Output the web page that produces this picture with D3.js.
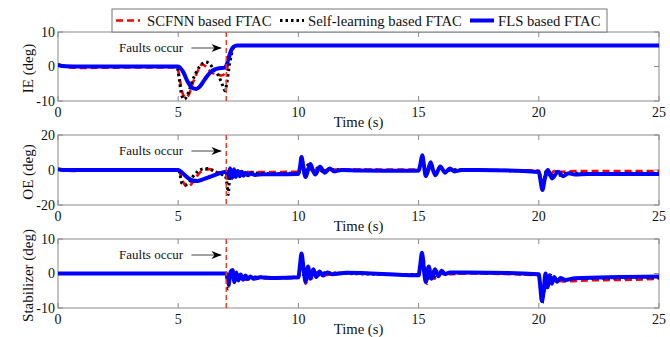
<!DOCTYPE html>
<html>
<head>
<meta charset="utf-8">
<script src="https://cdn.jsdelivr.net/npm/d3@7"></script>
<style>
  html, body { margin: 0; padding: 0; background: #fff; }
  svg { display: block; font-family: "Liberation Serif", "Times New Roman", serif; }
</style>
</head>
<body>
<svg id="chart" width="670" height="337"></svg>
<script>
// ---- data: [time (s), angle (deg)] ----
const seriesNames = ["SCFNN based FTAC", "Self-learning based FTAC", "FLS based FTAC"];
const xTicks = [0, 5, 10, 15, 20, 25];
const faultTime = 7;

// IE panel
const ieScfnn = [[0,0.5],[0.5,-0.3],[1,-0.4],[3,-0.3],[4.5,-0.3],[4.95,-0.2],[5.05,-3],[5.15,-7],[5.3,-9],[5.45,-8],[5.6,-5],[5.8,-1.5],[6.0,0.6],[6.15,0],[6.3,-1.2],[6.45,-2],[6.6,-2.2],[6.8,-2.6],[6.95,-2],[7.05,0],[7.15,3],[7.25,5],[7.4,6],[7.6,6.1],[25,6.1]];
const ieSelf = [[0,0.5],[0.5,0],[4.95,0],[5.05,-4],[5.15,-8.5],[5.25,-9.5],[5.4,-8],[5.6,-4],[5.8,-1],[6.0,0.8],[6.15,1.3],[6.3,0.8],[6.5,-1],[6.7,-3],[6.85,-5.5],[6.95,-7],[7.02,-5],[7.1,-1],[7.2,3],[7.3,5.5],[7.4,6.1],[25,6.1]];
const ieFls = [[0,0.4],[0.3,0.1],[1,0],[5,0],[5.2,-1.5],[5.4,-4.5],[5.6,-6.3],[5.75,-6.5],[5.9,-5.8],[6.1,-3.8],[6.3,-2],[6.5,-0.9],[6.7,-0.5],[6.9,-0.4],[7.0,0.2],[7.1,2.5],[7.2,4.6],[7.3,5.7],[7.45,6.1],[7.7,6.1],[25,6.1]];

// OE panel
const oeScfnn = [[0,0.5],[0.4,-0.3],[0.8,-0.5],[1,0],[5,0],[5.1,-3],[5.25,-8],[5.4,-9.5],[5.55,-8],[5.7,-5],[5.9,-1.5],[6.1,0],[6.3,0.5],[6.5,-0.5],[6.7,-1.5],[6.9,-1],[7.0,-2],[7.05,-6],[7.12,0],[7.2,-3],[7.3,-0.5],[7.45,-2],[7.6,-0.8],[8,-1.2],[10,-1],[10.1,2],[10.17,5],[10.3,-2],[10.45,2],[10.6,-1],[10.8,0.8],[11,-0.3],[11.5,0.3],[15,0.3],[15.1,4],[15.17,6],[15.3,-1.5],[15.45,2.5],[15.65,-1],[15.85,1],[16.1,0.2],[20,-0.3],[20.1,-5],[20.17,-8],[20.3,-1.5],[20.45,-3],[20.65,-0.5],[20.9,-1],[21.5,-0.6],[25,-0.6]];
const oeSelf = [[0,0.5],[0.3,0],[5,0],[5.08,-3],[5.15,-7.5],[5.3,-8.5],[5.45,-7],[5.6,-4],[5.8,-1],[6.0,0.5],[6.2,0.8],[6.4,0],[6.6,-1.5],[6.8,-2.5],[6.95,-3],[7.03,-8],[7.08,-14],[7.14,-4],[7.22,0],[7.3,-4],[7.4,-0.5],[7.5,-3],[7.65,-1],[7.8,-2.5],[8.0,-1.5],[8.5,-2],[10,-1.8],[10.08,2],[10.15,6.5],[10.25,-2.5],[10.4,3],[10.6,-1.5],[10.8,1.2],[11,-0.8],[11.3,0.2],[12,0],[15,-0.3],[15.08,3],[15.16,7.5],[15.3,-2.5],[15.5,3.5],[15.7,-2],[15.9,1.2],[16.1,-0.8],[16.4,0.2],[17,0],[20,-0.8],[20.08,-5],[20.15,-10],[20.3,-0.8],[20.5,-4],[20.7,-1],[20.9,-3],[21.2,-1.8],[22,-2],[25,-1.8]];
const oeFls = [[0,0.5],[0.3,0],[5,0],[5.2,-2],[5.4,-4.5],[5.6,-6],[5.8,-6.3],[6.0,-5.5],[6.3,-4],[6.6,-2.5],[6.9,-1.2],[7.0,-1],[7.08,-4],[7.16,1],[7.24,-4.5],[7.32,0.5],[7.4,-4],[7.48,-0.5],[7.56,-3.5],[7.64,-1],[7.72,-3.3],[7.8,-1.5],[7.9,-3],[8.0,-2],[8.2,-2.8],[8.5,-2.5],[10,-2.3],[10.07,2],[10.13,7.5],[10.2,2],[10.3,-4],[10.4,0],[10.5,3.5],[10.6,0],[10.7,-2.5],[10.9,1.8],[11.1,-1.5],[11.3,0.8],[11.5,-0.8],[11.8,0],[12.5,-0.3],[15,-0.4],[15.07,3],[15.15,8.5],[15.22,3],[15.3,-3.5],[15.4,0],[15.5,4.5],[15.6,0],[15.7,-3],[15.9,2],[16.1,-1.5],[16.3,0.8],[16.5,-0.8],[16.8,0],[17.5,0],[20,-1.1],[20.06,-5],[20.15,-11.4],[20.25,-5],[20.38,0],[20.55,-4.8],[20.8,-1],[21.0,-3.5],[21.25,-1.8],[21.5,-2.6],[22,-2.3],[25,-2.3]];

// Stabilizer panel
const stScfnn = [[0,0],[7,0],[7.05,-2],[7.1,-3.5],[7.2,0],[7.3,-1],[7.4,-2],[7.6,-1],[7.8,-1.8],[8.2,-1.5],[10,-1.3],[10.08,2],[10.15,4.5],[10.3,-3],[10.45,1],[10.6,-1.8],[10.8,0],[11.1,-0.5],[11.6,0.1],[15,-0.3],[15.1,3],[15.2,4.5],[15.35,-3],[15.5,0.5],[15.65,-1.5],[15.85,0],[16.2,-0.2],[17,0],[20,-0.5],[20.1,-4],[20.2,-6],[20.35,-1],[20.5,-2.5],[20.7,-1.8],[21,-2.3],[22,-2],[24,-1.8],[25,-1.5]];
const stSelf = [[0,0],[7,0],[7.04,-2],[7.08,-4.5],[7.15,-1],[7.22,1],[7.32,-2],[7.42,0],[7.52,-1.8],[7.65,-0.5],[7.8,-1.5],[8.1,-1],[9,-1.2],[10,-1],[10.07,2],[10.13,5],[10.25,-1.5],[10.38,1.5],[10.5,-1],[10.65,0.8],[10.8,-0.5],[11.1,0.2],[12,0],[15,-0.3],[15.07,2],[15.14,5],[15.25,1.5],[15.35,-1.5],[15.5,1],[15.65,-1],[15.8,0.5],[16.1,0],[17,0.2],[20,-0.3],[20.06,-4],[20.14,-8.5],[20.22,-4],[20.3,0],[20.4,-2.5],[20.5,-0.5],[20.65,-2.5],[20.8,-1.2],[21,-2],[21.5,-1.5],[25,-1.2]];
const stFls = [[0,0],[7,0],[7.05,-1.5],[7.1,-3],[7.18,0.5],[7.26,1],[7.34,-2.5],[7.42,0.3],[7.5,-2],[7.6,-0.3],[7.7,-1.8],[7.8,-0.6],[7.9,-1.6],[8.0,-0.9],[8.15,-1.5],[8.4,-1.1],[9,-1.3],[10,-1.1],[10.06,2],[10.13,5.8],[10.22,1],[10.3,-2.4],[10.4,2],[10.5,-1.5],[10.62,1.2],[10.74,-1],[10.88,0.6],[11.02,-0.6],[11.2,0.3],[11.4,-0.2],[12,0.2],[15,-0.5],[15.06,2],[15.14,6],[15.22,1],[15.3,-2.5],[15.42,2],[15.54,-1.5],[15.68,1.2],[15.82,-0.8],[15.96,0.8],[16.1,-0.2],[16.3,0.3],[17,0.3],[20,-0.2],[20.05,-3],[20.13,-8],[20.2,-5],[20.28,0],[20.36,-4],[20.45,-0.5],[20.54,-3],[20.64,-1],[20.76,-2.4],[20.9,-1.3],[21.1,-1.9],[21.5,-1.4],[25,-0.9]];

const ieTicks = [-10, 0, 10];
const oeTicks = [-20, 0, 20];
const stTicks = [-10, 0, 10];

// ---- layout ----
const svg = d3.select("#chart");
const left = 58, right = 659;
const panels = [
  { top: 32,  bottom: 101, domain: [-10, 10], ticks: ieTicks, label: "IE (deg)",          series: [ieScfnn, ieSelf, ieFls] },
  { top: 135, bottom: 205, domain: [-20, 20], ticks: oeTicks, label: "OE (deg)",          series: [oeScfnn, oeSelf, oeFls] },
  { top: 239, bottom: 308, domain: [-10, 10], ticks: stTicks, label: "Stabilizer (deg)",  series: [stScfnn, stSelf, stFls] }
];

const styles = [
  { stroke: "#ff0000", width: 2.6, dash: "7,4" },
  { stroke: "#000000", width: 3,   dash: "2.5,3" },
  { stroke: "#0000ff", width: 4,   dash: null }
];

const x = d3.scaleLinear().domain([0, 25]).range([left, right]);
const frameColor = "#8a8a8a";

svg.append("defs").append("marker")
  .attr("id", "head")
  .attr("viewBox", "0 0 10 8")
  .attr("refX", 10).attr("refY", 4)
  .attr("markerWidth", 10).attr("markerHeight", 8)
  .attr("markerUnits", "userSpaceOnUse")
  .attr("orient", "auto")
  .append("path").attr("d", "M0,0 L10,4 L0,8 L3,4 Z").attr("fill", "#000");

panels.forEach(p => {
  const y = d3.scaleLinear().domain(p.domain).range([p.bottom, p.top]);
  const g = svg.append("g");

  const clipId = "clip" + p.top;
  g.append("clipPath").attr("id", clipId)
    .append("rect").attr("x", left).attr("y", p.top).attr("width", right - left).attr("height", p.bottom - p.top);

  // frame
  g.append("rect").attr("x", left).attr("y", p.top)
    .attr("width", right - left).attr("height", p.bottom - p.top)
    .attr("fill", "#fff").attr("stroke", frameColor).attr("stroke-width", 1);

  // inward ticks on all four sides
  const tickLen = 5;
  xTicks.forEach(t => {
    g.append("line").attr("x1", x(t)).attr("x2", x(t)).attr("y1", p.bottom).attr("y2", p.bottom - tickLen).attr("stroke", frameColor);
    g.append("line").attr("x1", x(t)).attr("x2", x(t)).attr("y1", p.top).attr("y2", p.top + tickLen).attr("stroke", frameColor);
    g.append("text").attr("x", x(t)).attr("y", p.bottom + 15.5)
      .attr("text-anchor", "middle").attr("font-size", 14).attr("fill", "#111").text(t);
  });
  p.ticks.forEach(v => {
    g.append("line").attr("x1", left).attr("x2", left + tickLen).attr("y1", y(v)).attr("y2", y(v)).attr("stroke", frameColor);
    g.append("line").attr("x1", right).attr("x2", right - tickLen).attr("y1", y(v)).attr("y2", y(v)).attr("stroke", frameColor);
    g.append("text").attr("x", left - 3).attr("y", y(v)).attr("dy", "0.35em")
      .attr("text-anchor", "end").attr("font-size", 14).attr("fill", "#111").text(v);
  });

  // x label
  g.append("text").attr("x", (left + right) / 2).attr("y", p.bottom + 25.5)
    .attr("text-anchor", "middle").attr("font-size", 14.7).attr("fill", "#111").text("Time (s)");

  // y label
  const cy = (p.top + p.bottom) / 2 + 2;
  g.append("text").attr("transform", `translate(28,${cy}) rotate(-90)`)
    .attr("text-anchor", "middle").attr("dy", "0.35em").attr("font-size", 15).attr("fill", "#111").text(p.label);

  // series
  const line = d3.line().x(d => x(d[0])).y(d => y(d[1])).curve(d3.curveMonotoneX);
  const lines = g.append("g").attr("clip-path", `url(#${clipId})`);
  p.series.forEach((data, i) => {
    const s = styles[i];
    lines.append("path").datum(data).attr("d", line)
      .attr("fill", "none").attr("stroke", s.stroke).attr("stroke-width", s.width)
      .attr("stroke-dasharray", s.dash).attr("stroke-linejoin", "round");
  });

  // fault instant
  g.append("line").attr("x1", x(faultTime)).attr("x2", x(faultTime))
    .attr("y1", p.top).attr("y2", p.bottom)
    .attr("stroke", "#ee3322").attr("stroke-width", 1.4).attr("stroke-dasharray", "5,3");

  // annotation
  g.append("text").attr("x", x(5.2)).attr("y", p.top + 19.5)
    .attr("text-anchor", "end").attr("font-size", 13).attr("fill", "#111").text("Faults occur");
  g.append("line").attr("x1", x(5.55)).attr("x2", x(6.8))
    .attr("y1", p.top + 16).attr("y2", p.top + 16)
    .attr("stroke", "#444").attr("stroke-width", 1).attr("marker-end", "url(#head)");
});

// ---- legend ----
const legend = svg.append("g");
const lgTop = 9, lgBottom = 32, lgLeft = 112, lgRight = 607;
legend.append("rect").attr("x", lgLeft).attr("y", lgTop).attr("width", lgRight - lgLeft).attr("height", lgBottom - lgTop)
  .attr("fill", "#fff").attr("stroke", "#777").attr("stroke-width", 1);
const sampleStarts = [116, 280, 470];
const textStarts = [147, 308, 498];
const ly = (lgTop + lgBottom) / 2;
seriesNames.forEach((name, i) => {
  const s = styles[i];
  legend.append("line").attr("x1", sampleStarts[i]).attr("x2", sampleStarts[i] + 24).attr("y1", ly).attr("y2", ly)
    .attr("stroke", s.stroke).attr("stroke-width", s.width).attr("stroke-dasharray", s.dash);
  legend.append("text").attr("x", textStarts[i]).attr("y", ly).attr("dy", "0.35em")
    .attr("font-size", 14.7).attr("fill", "#111").text(name);
});
</script>
</body>
</html>
